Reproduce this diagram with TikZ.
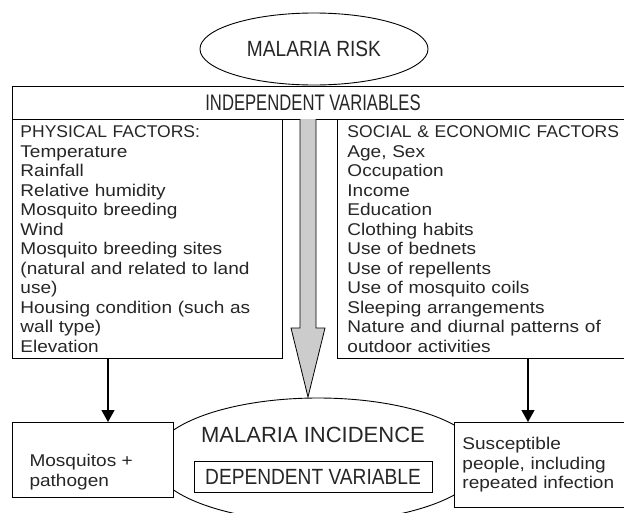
\documentclass[tikz,border=0pt]{standalone}
\usepackage{fontspec}
\setmainfont[FakeStretch=1.12]{Liberation Sans}
\newfontfamily\headfont[FakeStretch=0.87]{Liberation Sans}
\newfontfamily\narrowfont[FakeStretch=0.74]{Liberation Sans}
\newfontfamily\capsfont[FakeStretch=1.03]{Liberation Sans}
\newfontfamily\plainfont{Liberation Sans}
\usetikzlibrary{arrows.meta,shapes.geometric,positioning}

\tikzset{
  box/.style={draw, line width=0.9pt, fill=white, inner sep=0pt, text=black!85},
  bodyfont/.style={font=\fontsize{17}{19.5}\selectfont},
  factors/.style={box, bodyfont, anchor=north west, align=left, minimum height=239pt},
  down/.style={-{Triangle[width=13pt,length=12pt]}, line width=1.2pt},
}

\begin{document}
\begin{tikzpicture}[x=1pt,y=-1pt]
    \useasboundingbox (0,0) rectangle (624,512);
    \clip (0,0) rectangle (624,512);

    % top
    \node[draw, ellipse, line width=0.9pt, minimum width=228pt, minimum height=72pt, text=black!85,
          font=\headfont\fontsize{22}{24}\selectfont] (risk) at (314,49) {MALARIA RISK};
    \node[box, anchor=north west, minimum width=620pt, minimum height=33pt] (indep) at (12,86) {};
    \node[text=black!85, font=\narrowfont\fontsize{22.5}{24}\selectfont] (indeptxt) at (313,103) {INDEPENDENT VARIABLES};

    % the two groups of factors
    \node[factors, text width=254pt, inner xsep=8pt] (phys) at (12,119)
        {{\capsfont PHYSICAL FACTORS:}\\Temperature\\Rainfall\\Relative humidity\\Mosquito breeding\\Wind\\
         Mosquito breeding sites\\(natural and related to land\\use)\\Housing condition (such as\\wall type)\\Elevation};
    \node[factors, text width=275pt, inner xsep=10pt] (socio) at (337,119)
        {{\capsfont SOCIAL \& ECONOMIC FACTORS}\\Age, Sex\\Occupation\\Income\\Education\\Clothing habits\\
         Use of bednets\\Use of repellents\\Use of mosquito coils\\Sleeping arrangements\\
         Nature and diurnal patterns of\\outdoor activities};

    % bottom
    \node[draw, ellipse, line width=0.9pt, minimum width=330pt, minimum height=124pt] (incid) at (318,460) {};
    \node[text=black!85, font=\plainfont\fontsize{22}{24}\selectfont] (incidtxt) at (313,435) {MALARIA INCIDENCE};
    \node[box, minimum width=238pt, minimum height=31pt, font=\headfont\fontsize{22}{24}\selectfont] (dep) at (313,476.5)
        {DEPENDENT VARIABLE};
    \node[box, anchor=north west, minimum width=161pt, minimum height=75pt] (vector) at (12,422) {};
    \node[anchor=west, align=left, bodyfont, text=black!85] (vectortxt) at ([xshift=14pt,yshift=-12pt]vector.west)
        {Mosquitos +\\pathogen};
    \node[box, bodyfont, anchor=north west, align=left, text width=164pt, inner xsep=8pt, minimum height=85pt] (hosts) at (454,422)
        {Susceptible\\people, including\\repeated infection};

    % big arrow into the dependent variable
    \filldraw[fill=black!20, line width=0.8pt] (300,119) -- (300,328) -- (291,328) -- (308,397)
        -- (325,328) -- (316,328) -- (316,119);

    \draw[down] ([xshift=96pt]phys.south west) -- ([xshift=96pt]vector.north west);
    \draw[down] ([xshift=191pt]socio.south west) -- ([xshift=74pt]hosts.north west);
\end{tikzpicture}
\end{document}
